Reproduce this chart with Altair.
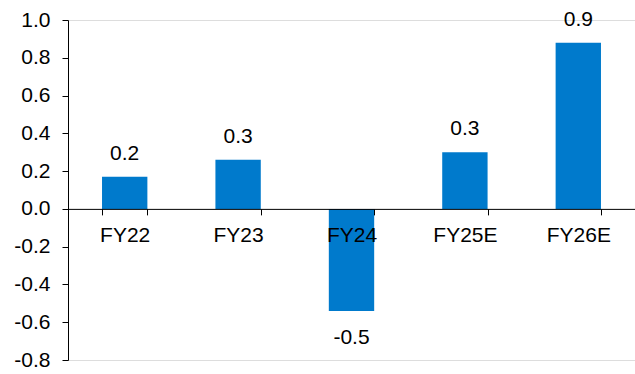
import altair as alt
import pandas as pd

categories = ["FY22", "FY23", "FY24", "FY25E", "FY26E"]
values = [0.17, 0.26, -0.54, 0.30, 0.88]
labels = ["0.2", "0.3", "-0.5", "0.3", "0.9"]
y_ticks = [-0.8, -0.6, -0.4, -0.2, 0.0, 0.2, 0.4, 0.6, 0.8, 1.0]

df = pd.DataFrame({"cat": categories, "val": values, "lab": labels})

FONT = "Liberation Sans"
FS = 21
H = 340
ymin, ymax = -0.8, 1.0
zero_px = H * ymax / (ymax - ymin)
x_offset = -(H - zero_px)

x_scale = alt.Scale(paddingInner=0.6, paddingOuter=0.3)
y_scale = alt.Scale(domain=[ymin, ymax], nice=False, zero=False)

x_axis = alt.Axis(
    title=None,
    orient="bottom",
    offset=x_offset,
    zindex=1,
    tickBand="extent",
    labelAngle=0,
    labelBaseline="alphabetic",
    labelPadding=27,
)
y_axis = alt.Axis(
    title=None,
    values=y_ticks,
    labelExpr="replace(format(datum.value, '.1f'), '\u2212', '-')",
    labelPadding=12,
)

bars = alt.Chart(df).mark_bar(color="#007ACC").encode(
    x=alt.X("cat:N", sort=categories, scale=x_scale, axis=x_axis),
    y=alt.Y("val:Q", scale=y_scale, axis=y_axis),
    y2=alt.datum(0),
)

pos_text = alt.Chart(df).transform_filter("datum.val >= 0").mark_text(
    font=FONT, fontSize=FS, color="black", baseline="alphabetic", dy=-17
).encode(
    x=alt.X("cat:N", sort=categories, scale=x_scale, axis=x_axis),
    y=alt.Y("val:Q", scale=y_scale, axis=y_axis),
    text="lab:N",
)

neg_text = alt.Chart(df).transform_filter("datum.val < 0").mark_text(
    font=FONT, fontSize=FS, color="black", baseline="alphabetic", dy=33
).encode(
    x=alt.X("cat:N", sort=categories, scale=x_scale, axis=x_axis),
    y=alt.Y("val:Q", scale=y_scale, axis=y_axis),
    text="lab:N",
)

chart = (
    alt.layer(bars, pos_text, neg_text)
    .properties(
        width=567,
        height=H,
        autosize=alt.AutoSizeParams(type="none"),
        padding={"left": 68, "top": 20, "right": 0, "bottom": 14},
    )
    .configure_view(strokeWidth=0)
    .configure(background="white")
    .configure_axis(
        domainColor="black",
        domainWidth=1,
        tickColor="black",
        tickSize=6,
        labelFont=FONT,
        labelFontSize=FS,
        labelColor="black",
        labelOverlap=False,
        labelFlush=False,
        grid=False,
    )
)

chart.save("out.html", embed_options={"renderer": "svg", "actions": False})
